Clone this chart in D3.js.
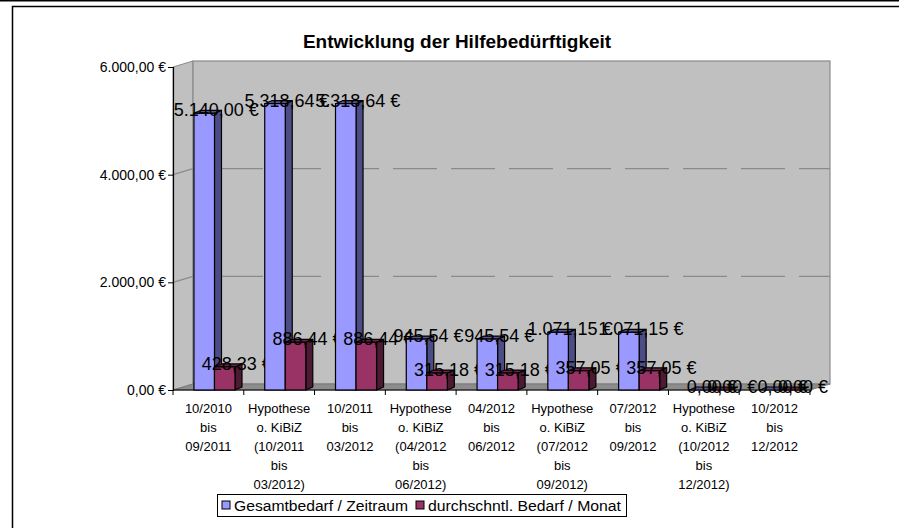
<!DOCTYPE html>
<meta charset="utf-8">
<style>
  body { margin: 0; background: #fff; }
  svg { display: block; font-family: "Liberation Sans", Arial, sans-serif; }
</style>
<body>
<svg width="899" height="528"></svg>
<script src="https://d3js.org/d3.v7.min.js"></script>
<script>
  var categories = [
    ["10/2010", "bis", "09/2011"],
    ["Hypothese", "o. KiBiZ", "(10/2011", "bis", "03/2012)"],
    ["10/2011", "bis", "03/2012"],
    ["Hypothese", "o. KiBiZ", "(04/2012", "bis", "06/2012)"],
    ["04/2012", "bis", "06/2012"],
    ["Hypothese", "o. KiBiZ", "(07/2012", "bis", "09/2012)"],
    ["07/2012", "bis", "09/2012"],
    ["Hypothese", "o. KiBiZ", "(10/2012", "bis", "12/2012)"],
    ["10/2012", "bis", "12/2012"]
  ];
  var gesamt = [5140.00, 5318.64, 5318.64, 945.54, 945.54, 1071.15, 1071.15, 0, 0];
  var monat = [428.33, 886.44, 886.44, 315.18, 315.18, 357.05, 357.05, 0, 0];
  var seriesNames = ["Gesamtbedarf / Zeitraum", "durchschntl. Bedarf / Monat"];
  var yTicks = [0, 2000, 4000, 6000];

  var svg = d3.select("svg");

  // outer frame
  svg.append("line").attr("x1", 0).attr("x2", 899).attr("y1", 0.8).attr("y2", 0.8)
    .attr("stroke", "#000").attr("stroke-width", 1.6);
  svg.append("rect").attr("x", 12.5).attr("y", 6.5).attr("width", 900).attr("height", 540)
    .attr("fill", "none").attr("stroke", "#000").attr("stroke-width", 1.5);

  var loc = d3.formatLocale({ decimal: ",", thousands: ".", grouping: [3], currency: ["", " €"] });
  var fmt = loc.format("$,.2f");

  var x0 = 173, x1 = 810, dx = 20, dy = -6;
  var bdx = 7, bdy = -3;
  var x = d3.scaleBand().domain(d3.range(categories.length)).range([x0, x1]);
  var xs = d3.scaleBand().domain([0, 1]).range([x.bandwidth() * 0.296, x.bandwidth() * 0.876]);
  var y = d3.scaleLinear().domain([0, 6000]).range([390, 67]);

  var yb = y(0);

  // title
  svg.append("text").attr("x", 457).attr("y", 48).attr("text-anchor", "middle")
    .attr("font-size", 19).attr("font-weight", "bold").text("Entwicklung der Hilfebedürftigkeit");

  // side wall
  svg.append("path")
    .attr("d", "M" + x0 + "," + y(6000) + "L" + (x0 + dx) + "," + (y(6000) + dy) + "L" + (x0 + dx) + "," + (yb + dy) + "L" + x0 + "," + yb + "Z")
    .attr("fill", "#c0c0c0").attr("stroke", "#8a8a8a").attr("stroke-width", 1);
  // back wall
  svg.append("rect").attr("x", x0 + dx).attr("y", y(6000) + dy)
    .attr("width", x1 - x0).attr("height", yb - y(6000))
    .attr("fill", "#c0c0c0").attr("stroke", "#8a8a8a").attr("stroke-width", 1.2);
  // floor
  svg.append("path")
    .attr("d", "M" + x0 + "," + yb + "L" + x1 + "," + yb + "L" + (x1 + dx) + "," + (yb + dy) + "L" + (x0 + dx) + "," + (yb + dy) + "Z")
    .attr("fill", "#8c8c8c").attr("stroke", "#7a7a7a").attr("stroke-width", 1);

  // gridlines
  yTicks.filter(function (t) { return t > 0 && t < 6000; }).forEach(function (t) {
    svg.append("line").attr("x1", x0).attr("y1", y(t)).attr("x2", x0 + dx).attr("y2", y(t) + dy)
      .attr("stroke", "#8a8a8a").attr("stroke-width", 1.2);
    svg.append("line").attr("x1", x0 + dx).attr("y1", y(t) + dy).attr("x2", x1 + dx).attr("y2", y(t) + dy)
      .attr("stroke", "#8a8a8a").attr("stroke-width", 1.2).attr("stroke-dasharray", "44,14")
      .attr("stroke-dashoffset", -26);
  });

  // y axis
  var yAxis = svg.append("g").attr("transform", "translate(" + x0 + ",0)")
    .call(d3.axisLeft(y).tickValues(yTicks).tickSize(5).tickPadding(2).tickFormat(fmt));
  yAxis.selectAll("text").attr("font-size", 14).attr("font-family", "Liberation Sans, Arial, sans-serif").attr("fill", "#000");
  yAxis.select(".domain").attr("stroke", "#000").attr("stroke-width", 1.2);

  // x axis
  var xAxis = svg.append("g").attr("transform", "translate(0," + yb + ")");
  xAxis.append("line").attr("x1", x0).attr("x2", x1).attr("stroke", "#000").attr("stroke-width", 1.2);
  xAxis.selectAll(".tk").data(d3.range(categories.length + 1)).enter().append("line")
    .attr("x1", function (i) { return x0 + i * x.step(); })
    .attr("x2", function (i) { return x0 + i * x.step(); })
    .attr("y1", 0).attr("y2", 5).attr("stroke", "#000").attr("stroke-width", 1);
  var xl = xAxis.selectAll(".xl").data(categories).enter().append("text")
    .attr("text-anchor", "middle").attr("font-size", 13)
    .attr("transform", function (d, i) { return "translate(" + (x(i) + x.bandwidth() / 2) + ",0)"; });
  xl.selectAll("tspan").data(function (d) { return d; }).enter().append("tspan")
    .attr("x", 0).attr("y", function (d, j) { return 23 + j * 19; }).text(function (d) { return d; });

  // bars, category by category
  var colors = [
    { front: "#9999ff", side: "#4d4d85", top: "#55558f" },
    { front: "#993366", side: "#4d1a33", top: "#6b2447" }
  ];

  function bar(g, bx, w, top, c) {
    g.append("path")
      .attr("d", "M" + (bx + w) + "," + yb + "L" + (bx + w + bdx) + "," + (yb + bdy) + "L" + (bx + w + bdx) + "," + (top + bdy) + "L" + (bx + w) + "," + top + "Z")
      .attr("fill", c.side).attr("stroke", "#000").attr("stroke-width", 1.2).attr("stroke-linejoin", "round");
    g.append("path")
      .attr("d", "M" + bx + "," + top + "L" + (bx + bdx) + "," + (top + bdy) + "L" + (bx + w + bdx) + "," + (top + bdy) + "L" + (bx + w) + "," + top + "Z")
      .attr("fill", c.top).attr("stroke", "#000").attr("stroke-width", 1.2).attr("stroke-linejoin", "round");
    g.append("rect").attr("x", bx).attr("y", top).attr("width", w).attr("height", yb - top)
      .attr("fill", c.front).attr("stroke", "#000").attr("stroke-width", 1.2);
  }

  categories.forEach(function (c, i) {
    var g = svg.append("g");
    var vals = [gesamt[i], monat[i]];
    vals.forEach(function (v, s) {
      bar(g, x(i) + xs(s), xs.bandwidth(), y(v), colors[s]);
    });
    vals.forEach(function (v, s) {
      g.append("text").attr("x", x(i) + xs(s) + xs.bandwidth() / 2 + 12).attr("y", y(v) + 3)
        .attr("text-anchor", "middle").attr("font-size", 18).attr("fill", "#000").text(fmt(v));
    });
  });

  // legend
  var lg = svg.append("g").attr("transform", "translate(217,494)");
  lg.append("rect").attr("x", 0.5).attr("y", 0.5).attr("width", 409).attr("height", 22)
    .attr("fill", "#fff").attr("stroke", "#000").attr("stroke-width", 1);
  var lx = [5, 199], lw = [174, 193];
  seriesNames.forEach(function (n, s) {
    lg.append("rect").attr("x", lx[s]).attr("y", 7).attr("width", 8).attr("height", 8)
      .attr("fill", colors[s].front).attr("stroke", "#000").attr("stroke-width", 1);
    lg.append("text").attr("x", lx[s] + 12).attr("y", 16.5).attr("font-size", 14)
      .attr("textLength", lw[s]).attr("lengthAdjust", "spacingAndGlyphs").text(n);
  });
</script>
</body>
